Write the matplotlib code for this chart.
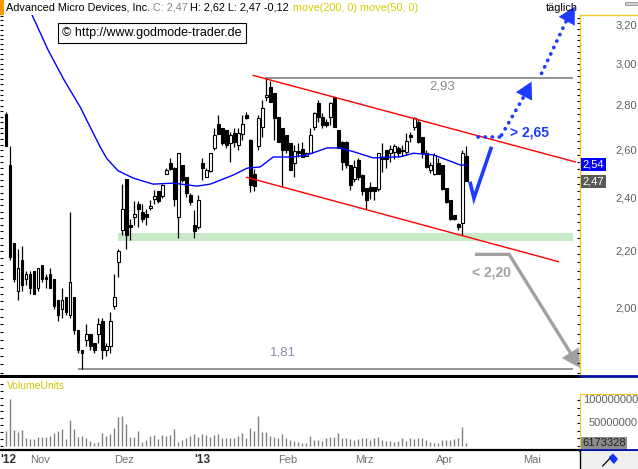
import numpy as np
import pandas as pd
import matplotlib
matplotlib.use("Agg")
import matplotlib.pyplot as plt
from matplotlib.transforms import blended_transform_factory
from matplotlib.patches import Rectangle, Polygon
from matplotlib.lines import Line2D

plt.rcParams['font.family'] = ['Liberation Sans', 'DejaVu Sans']

# ---------------- data ----------------
start_date = '2012-10-18'
holidays = ['2012-10-29', '2012-10-30', '2012-11-22', '2012-12-25',
            '2013-01-01', '2013-01-21', '2013-02-18', '2013-03-29']

opens = [2.76, 2.54, 2.23, 2.06, 2.17, 2.10, 2.12, 2.13, 2.07, 2.15,
         2.11, 2.12, 2.10, 2.03, 2.00, 2.04, 1.98, 2.04, 1.93, 1.87,
         1.90, 1.92, 1.89, 1.92, 1.96, 1.87, 1.88, 2.01, 2.16, 2.28,
         2.48, 2.30, 2.33, 2.38, 2.35, 2.34, 2.365, 2.40, 2.43, 2.41,
         2.50, 2.545, 2.527, 2.327, 2.538, 2.487, 2.415, 2.298, 2.29, 2.545,
         2.49, 2.514, 2.609, 2.716, 2.697, 2.69, 2.631, 2.675, 2.623, 2.671,
         2.758, 2.645, 2.50, 2.618, 2.705, 2.84, 2.89, 2.858, 2.75, 2.697,
         2.667, 2.631, 2.547, 2.598, 2.606, 2.577, 2.59, 2.705, 2.811, 2.75,
         2.727, 2.75, 2.84, 2.69, 2.638, 2.638, 2.538, 2.479, 2.559, 2.496,
         2.442, 2.448, 2.448, 2.438, 2.57, 2.602, 2.59, 2.595, 2.609, 2.602,
         2.593, 2.667, 2.705, 2.727, 2.66, 2.588, 2.517, 2.50, 2.545, 2.538,
         2.442, 2.395, 2.336, 2.302, 2.306, 2.577]
highs = [2.77, 2.62, 2.23, 2.21, 2.22, 2.13, 2.13, 2.13, 2.14, 2.15,
         2.12, 2.14, 2.10, 2.03, 2.07, 2.04, 2.35, 2.04, 1.93, 1.87,
         1.95, 1.92, 1.89, 1.97, 1.97, 1.89, 1.99, 2.12, 2.21, 2.46,
         2.48, 2.32, 2.39, 2.39, 2.38, 2.36, 2.395, 2.435, 2.43, 2.46,
         2.525, 2.566, 2.53, 2.59, 2.54, 2.49, 2.422, 2.356, 2.415, 2.566,
         2.524, 2.59, 2.697, 2.758, 2.70, 2.69, 2.682, 2.697, 2.697, 2.758,
         2.772, 2.648, 2.52, 2.758, 2.827, 2.93, 2.919, 2.86, 2.75, 2.70,
         2.667, 2.631, 2.623, 2.631, 2.638, 2.595, 2.697, 2.772, 2.827, 2.765,
         2.738, 2.819, 2.842, 2.69, 2.64, 2.64, 2.54, 2.559, 2.566, 2.50,
         2.445, 2.469, 2.448, 2.59, 2.634, 2.602, 2.623, 2.627, 2.619, 2.623,
         2.677, 2.682, 2.748, 2.738, 2.66, 2.602, 2.552, 2.588, 2.566, 2.54,
         2.445, 2.395, 2.336, 2.305, 2.602, 2.62]
lows = [2.62, 2.17, 2.09, 2.03, 2.06, 2.08, 2.05, 2.05, 2.06, 2.09,
        2.07, 2.07, 2.00, 1.96, 1.97, 1.98, 1.97, 1.92, 1.86, 1.81,
        1.88, 1.87, 1.86, 1.89, 1.84, 1.85, 1.86, 2.00, 2.11, 2.26,
        2.21, 2.24, 2.30, 2.29, 2.31, 2.30, 2.356, 2.38, 2.385, 2.405,
        2.50, 2.517, 2.37, 2.248, 2.469, 2.408, 2.375, 2.248, 2.283, 2.476,
        2.49, 2.51, 2.602, 2.67, 2.623, 2.609, 2.552, 2.616, 2.602, 2.645,
        2.74, 2.428, 2.43, 2.60, 2.66, 2.82, 2.815, 2.645, 2.635, 2.448,
        2.588, 2.517, 2.49, 2.57, 2.57, 2.575, 2.588, 2.69, 2.727, 2.697,
        2.705, 2.713, 2.703, 2.609, 2.517, 2.524, 2.435, 2.469, 2.476, 2.415,
        2.359, 2.398, 2.395, 2.431, 2.51, 2.524, 2.552, 2.562, 2.57, 2.575,
        2.58, 2.638, 2.69, 2.631, 2.566, 2.524, 2.503, 2.496, 2.50, 2.435,
        2.385, 2.318, 2.318, 2.281, 2.26, 2.47]
closes = [2.62, 2.18, 2.10, 2.14, 2.08, 2.12, 2.07, 2.05, 2.14, 2.10,
          2.10, 2.07, 2.01, 1.98, 2.03, 1.99, 2.09, 1.93, 1.87, 1.86,
          1.92, 1.88, 1.87, 1.95, 1.87, 1.88, 1.96, 2.04, 2.20, 2.36,
          2.26, 2.29, 2.34, 2.36, 2.32, 2.33, 2.37, 2.41, 2.39, 2.455,
          2.517, 2.52, 2.40, 2.588, 2.476, 2.422, 2.388, 2.276, 2.395, 2.527,
          2.517, 2.588, 2.667, 2.671, 2.631, 2.623, 2.667, 2.638, 2.675, 2.716,
          2.743, 2.455, 2.45, 2.744, 2.788, 2.85, 2.819, 2.743, 2.638, 2.602,
          2.602, 2.517, 2.598, 2.588, 2.57, 2.588, 2.667, 2.768, 2.75, 2.713,
          2.713, 2.814, 2.705, 2.609, 2.552, 2.538, 2.455, 2.531, 2.487, 2.431,
          2.395, 2.431, 2.431, 2.588, 2.562, 2.562, 2.606, 2.619, 2.59, 2.599,
          2.641, 2.66, 2.743, 2.638, 2.588, 2.531, 2.538, 2.581, 2.50, 2.438,
          2.388, 2.32, 2.32, 2.289, 2.59, 2.47]
volumes_m = [32.6, 102.0, 34.8, 31.2, 34.8, 18.1, 15.2, 15.2, 20.3, 20.3,
             20.3, 22.5, 29.0, 32.6, 37.0, 15.2, 56.5, 37.0, 20.3, 21.7,
             18.1, 10.9, 7.2, 8.0, 27.5, 22.5, 26.1, 39.9, 63.0, 65.9,
             48.6, 20.3, 20.3, 32.6, 9.4, 13.0, 21.7, 23.9, 14.5, 23.9,
             22.5, 23.9, 37.0, 9.4, 12.3, 18.1, 22.5, 25.4, 20.3, 25.4,
             23.9, 20.3, 23.9, 25.4, 18.1, 18.1, 18.1, 16.7, 21.7, 27.5,
             18.1, 39.9, 32.6, 65.2, 31.2, 31.2, 21.7, 20.3, 18.1, 25.4,
             18.1, 13.0, 10.9, 9.4, 7.2, 5.8, 21.7, 13.0, 13.0, 10.9,
             16.7, 20.3, 18.8, 27.5, 18.1, 16.7, 14.5, 13.0, 15.2, 16.7,
             16.7, 13.0, 18.1, 20.3, 13.0, 11.6, 10.9, 8.0, 11.6, 16.7,
             11.6, 18.1, 15.2, 16.7, 18.1, 13.0, 9.4, 5.8, 7.2, 13.0,
             13.0, 13.0, 14.5, 16.7, 42.0, 6.17]

# moving average (blue line) read at selected bar positions
ma_idx = [5.0, 6.5, 10.5, 14.5, 18.5, 23.5, 25.2, 28.0, 31.75, 36.75, 41.75,
          47.75, 51.0, 56.75, 60.25, 63.5, 66.75, 71.75, 75.25, 80.25, 83.5,
          86.75, 91.75, 95.25, 98.5, 101.75, 106.75, 110.25, 113.5, 115.0]
ma_val = [3.33, 3.254, 3.071, 2.922, 2.795, 2.616, 2.565, 2.514, 2.484, 2.459,
          2.463, 2.451, 2.459, 2.496, 2.525, 2.530, 2.572, 2.572, 2.581, 2.611,
          2.611, 2.595, 2.568, 2.571, 2.573, 2.588, 2.581, 2.559, 2.538, 2.538]

resistance = 2.93
low_level = 1.81
support_zone = (2.238, 2.268)
upper_channel = ([61.75, 142.25], [2.944, 2.551])
lower_channel = ([60.1, 138.0], [2.487, 2.163])
target_up = 2.65
target_down = 2.20
last_close = 2.47
ma_last = 2.54
last_volume = 6173328

price_ticks = [2.00, 2.20, 2.40, 2.60, 2.80, 3.00, 3.20]
price_labels = ['2,00', '2,20', '2,40', '2,60', '2,80', '3,00', '3,20']
vol_ticks = [50, 100]
vol_labels = ['50000000', '100000000']
month_names = {1: "'13", 2: 'Feb', 3: 'Mrz', 4: 'Apr', 5: 'Mai', 11: 'Nov', 12: 'Dez'}

# ---------------- layout ----------------
W, H = 638, 469
fig = plt.figure(figsize=(W / 100, H / 100), dpi=100)
fig.patch.set_facecolor('white')


def rect(x0, y0, x1, y1):
    return [x0 / W, 1 - y1 / H, (x1 - x0) / W, (y1 - y0) / H]


XL = (-1.5, 143.4)
YL = (1.7898, 3.2536)
BLUE = '#1e3cff'
YEL = '#f0c828'

ax = fig.add_axes(rect(0, 15, 580, 376))
ax.set_yscale('log')
ax.set_xlim(*XL)
ax.set_ylim(*YL)
for s in ['top', 'right', 'left']:
    ax.spines[s].set_visible(False)
ax.spines['bottom'].set_linewidth(2.2)
ax.spines['bottom'].set_color('black')
ax.set_xticks([])
ax.yaxis.set_major_locator(matplotlib.ticker.FixedLocator(np.arange(1.80, 3.26, 0.025)))
ax.yaxis.set_minor_locator(matplotlib.ticker.NullLocator())
ax.yaxis.set_major_formatter(matplotlib.ticker.NullFormatter())
ax.tick_params(axis='y', direction='in', length=2.5, width=0.8, color='black', left=True, pad=0)

idx = np.arange(len(opens))
o = np.array(opens); h = np.array(highs); l = np.array(lows); c = np.array(closes)

# support zone
ax.fill_between([28, 141.6], support_zone[0], support_zone[1], color='#c8eac8', lw=0, zorder=1)
# horizontal levels
ax.hlines(resistance, 64.7, 141.6, color='#808080', lw=1.2, zorder=2)
ax.hlines(low_level, 18, 141.6, color='#808080', lw=1.2, zorder=2)
ax.text(108.9, 2.888, '2,93', color='#8c8c8c', fontsize=9.5, ha='center', va='center')
ax.text(69.2, 1.862, '1,81', color='#8a8ab0', fontsize=9.5, ha='center', va='center')

# candles
ax.vlines(idx, l, h, color='black', lw=0.9, zorder=3)
body_lo = np.minimum(o, c)
body_h = np.maximum(np.abs(c - o), 0.004)
up = c >= o
ax.bar(idx[up], body_h[up], bottom=body_lo[up], width=0.72, color='white',
       edgecolor='black', linewidth=0.8, zorder=4)
ax.bar(idx[~up], body_h[~up], bottom=body_lo[~up], width=0.72, color='black',
       edgecolor='black', linewidth=0.8, zorder=4)

# moving average
ax.plot(ma_idx, ma_val, color='#0000ff', lw=1.0, zorder=5)

# channel
ax.plot(*upper_channel, color='#ff0000', lw=1.0, zorder=5)
ax.plot(*lower_channel, color='#ff0000', lw=1.0, zorder=5)

# bullish scenario
ax.plot([115.9, 116.9, 121.3], [2.469, 2.402, 2.616], color=BLUE, lw=2.6,
        solid_capstyle='butt', solid_joinstyle='miter', zorder=6)
dot = dict(color=BLUE, lw=2.7, linestyle=(0, (0.05, 1.85)), dash_capstyle='round', zorder=6)
ax.plot([118.0, 123.4], [2.66, 2.66], **dot)
ax.plot([123.8, 129.6], [2.667, 2.85], **dot)
ln = Line2D([133.8, 140.1], [2.954, 3.227], **dot)
ln.set_clip_on(False)
ax.add_line(ln)
ah = dict(arrowstyle='-|>,head_length=0.6,head_width=0.33', color=BLUE, lw=0,
          mutation_scale=20, shrinkA=0, shrinkB=0)
ax.annotate('', xy=(131.3, 2.914), xytext=(129.8, 2.858), arrowprops=ah, annotation_clip=False, zorder=7)
ax.annotate('', xy=(142.1, 3.299), xytext=(140.6, 3.240), arrowprops=ah, annotation_clip=False, zorder=7)
ax.text(125.9, 2.677, '> ' + f'{target_up:.2f}'.replace('.', ','), color=BLUE, fontsize=10,
        fontweight='bold', ha='left', va='center', zorder=7)

# bearish scenario
GR = '#a0a0a0'
ax.plot([117.6, 125.7, 141.4], [2.189, 2.189, 1.852], color=GR, lw=2.4,
        solid_joinstyle='miter', zorder=6)
ah2 = dict(arrowstyle='-|>,head_length=0.65,head_width=0.36', color=GR, lw=0,
           mutation_scale=20, shrinkA=0, shrinkB=0)
ax.annotate('', xy=(143.4, 1.8138), xytext=(141.4, 1.852), arrowprops=ah2, annotation_clip=False, zorder=7)
ax.text(116.4, 2.126, '< ' + f'{target_down:.2f}'.replace('.', ','), color=GR, fontsize=10,
        fontweight='bold', ha='left', va='center', zorder=7)

# ---------------- right price panel ----------------
axr = fig.add_axes(rect(580, 15, 638, 376))
axr.set_yscale('log')
axr.set_ylim(*YL)
axr.set_xlim(0, 1)
axr.set_xticks([])
axr.spines['right'].set_visible(False)
axr.spines['left'].set_color(YEL)
axr.spines['top'].set_color(YEL)
axr.spines['left'].set_linewidth(1.0)
axr.spines['top'].set_linewidth(1.0)
axr.spines['bottom'].set_color('#0010a0')
axr.spines['bottom'].set_linewidth(2.0)
axr.yaxis.set_major_locator(matplotlib.ticker.FixedLocator(np.arange(1.80, 3.26, 0.03)))
axr.yaxis.set_minor_locator(matplotlib.ticker.NullLocator())
axr.yaxis.set_major_formatter(matplotlib.ticker.NullFormatter())
axr.tick_params(axis='y', direction='out', length=2.5, width=0.8, color='black')
for p, lab in zip(price_ticks, price_labels):
    axr.text(0.98, p, lab, ha='right', va='center', fontsize=8, color='#606060')
axr.text(0.05, ma_last, f'{ma_last:.2f}'.replace('.', ','), ha='left', va='center', fontsize=8,
         color='white', bbox=dict(boxstyle='square,pad=0.15', fc='#0000ff', ec='none'))
axr.text(0.05, last_close, f'{last_close:.2f}'.replace('.', ','), ha='left', va='center', fontsize=8,
         color='white', bbox=dict(boxstyle='square,pad=0.15', fc='#5a5a5a', ec='none'))

# ---------------- volume panel ----------------
vax = fig.add_axes(rect(0, 378, 580, 450))
vax.set_xlim(*XL)
vax.set_ylim(-8.7, 147.8)
for s in ['top', 'right', 'left']:
    vax.spines[s].set_visible(False)
vax.spines['bottom'].set_linewidth(1.6)
vax.set_xticks([])
vax.yaxis.set_major_locator(matplotlib.ticker.FixedLocator(np.arange(0, 140, 15)))
vax.yaxis.set_major_formatter(matplotlib.ticker.NullFormatter())
vax.tick_params(axis='y', direction='in', length=2.5, width=0.8, pad=0)
vax.vlines(idx, 0, volumes_m, color='#808080', lw=1.0)
fig.text(7 / W, 1 - 386 / H, 'VolumeUnits', color='#d4c800', fontsize=7.5, va='center', ha='left')

vrax = fig.add_axes(rect(580, 394, 638, 450))
vrax.set_ylim(-8.7, 113)
vrax.set_xlim(0, 1)
vrax.set_xticks([])
vrax.spines['right'].set_visible(False)
vrax.spines['left'].set_color(YEL)
vrax.spines['top'].set_color(YEL)
vrax.spines['bottom'].set_color('#0010a0')
vrax.spines['bottom'].set_linewidth(2.0)
vrax.yaxis.set_major_locator(matplotlib.ticker.FixedLocator(np.arange(0, 112, 16.7)))
vrax.yaxis.set_major_formatter(matplotlib.ticker.NullFormatter())
vrax.tick_params(axis='y', direction='out', length=2.5, width=0.8)
for v, lab in zip(vol_ticks, vol_labels):
    vrax.text(1.0, v, lab, ha='right', va='center', fontsize=8, color='#606060', clip_on=False)
vrax.text(0.04, last_volume / 1e6, f'{last_volume}', ha='left', va='center', fontsize=8,
          color='#202020', bbox=dict(boxstyle='square,pad=0.1', fc='#8c8c8c', ec='none'))

# ---------------- date labels ----------------
dates = pd.bdate_range(start=start_date, periods=150, freq='C', holidays=holidays)
tr = blended_transform_factory(vax.transData, fig.transFigure)
ylab = 1 - 460 / H
vax.text(XL[0] + 0.1, ylab, "'12", transform=tr, ha='left', va='center', fontsize=8.5,
         fontweight='bold', color='#303030', clip_on=False)
for k in range(1, len(dates)):
    if dates[k].month != dates[k - 1].month and k < 143:
        m = dates[k].month
        lab = month_names.get(m, '')
        if m == 1:
            vax.text(k, ylab, lab, transform=tr, ha='center', va='center', fontsize=8.5,
                     fontweight='bold', color='#303030', clip_on=False)
        else:
            vax.text(k + 0.5, ylab, lab, transform=tr, ha='center', va='center', fontsize=8,
                     color='#707070', clip_on=False)

# ---------------- header & decorations ----------------
fig.patches.append(Rectangle((0, 1 - 15 / H), 3.5 / W, 15 / H, transform=fig.transFigure,
                             fc='#ff9900', ec='none'))
yh = 1 - 8 / H
fig.text(6 / W, yh, 'Advanced Micro Devices, Inc.', fontsize=7.8, color='black', va='center')
fig.text(152.7 / W, yh, 'C: 2,47', fontsize=7.8, color='#888888', va='center')
fig.text(190 / W, yh, 'H: 2,62 L: 2,47 -0,12', fontsize=7.8, color='black', va='center')
fig.text(292.7 / W, yh, 'move(200, 0) move(50, 0)', fontsize=7.8, color='#d8cc00', va='center')
fig.text(546 / W, yh, 'täglich', fontsize=7.8, color='black', va='center')
fig.patches.append(Rectangle((625 / W, 1 - 5 / H), 13 / W, 3 / H, transform=fig.transFigure,
                             fc='#d0d0d0', ec='#808080', lw=0.5))
fig.text(62 / W, 1 - 33 / H, '© http://www.godmode-trader.de', fontsize=9, color='black',
         va='center', ha='left',
         bbox=dict(boxstyle='square,pad=0.35', fc='white', ec='black', lw=0.8))

# bottom-right box with flag icon
fig.patches.append(Rectangle((580 / W, 0), 58 / W, 18 / H, transform=fig.transFigure,
                             fc='#efefef', ec='none'))
fig.lines.append(Line2D([579.5 / W, 579.5 / W], [0, 18 / H], transform=fig.transFigure,
                        color='black', lw=1.0))
fig.lines.append(Line2D([602.7 / W, 610 / W], [1 - 466 / H, 1 - 458.3 / H],
                        transform=fig.transFigure, color='black', lw=0.9))
fig.patches.append(Polygon([(609 / W, 1 - 457 / H), (613 / W, 1 - 453.5 / H), (618 / W, 1 - 459 / H),
                            (614 / W, 1 - 464 / H), (611 / W, 1 - 461 / H)],
                           closed=True, transform=fig.transFigure, fc='#1030ff', ec='none'))

fig.savefig('out.png', dpi=100, facecolor='white')
